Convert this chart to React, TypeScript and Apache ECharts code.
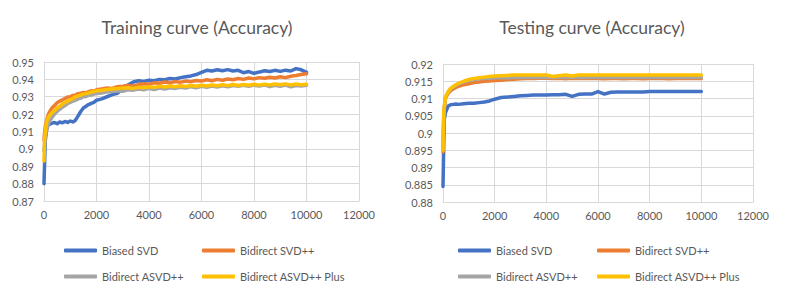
import React, { useEffect, useRef } from "react";
import * as echarts from "echarts";

const SERIES_NAMES = ["Biased SVD", "Bidirect SVD++", "Bidirect ASVD++", "Bidirect ASVD++ Plus"];
const COLORS = ["#4472C4", "#ED7D31", "#A5A5A5", "#FFC000"];

const TRAIN_TITLE = "Training curve (Accuracy)";
const TEST_TITLE = "Testing curve (Accuracy)";

// Training curve iterations
const TRAIN_X = [
  0, 25, 50, 100, 150, 200, 300, 400, 500, 600, 700, 800, 900, 1000, 1100, 1200, 1300, 1400, 1500, 1600,
  1700, 1800, 1900, 2000, 2200, 2400, 2600, 2800, 3000, 3200, 3400, 3600, 3800, 4000, 4200, 4400, 4600,
  4800, 5000, 5200, 5400, 5600, 5800, 6000, 6200, 6400, 6600, 6800, 7000, 7200, 7400, 7600, 7800, 8000,
  8200, 8400, 8600, 8800, 9000, 9200, 9400, 9600, 9800, 10000,
];

const TRAIN_BIASED_SVD = [
  0.88, 0.893, 0.905, 0.911, 0.9135, 0.914, 0.9148, 0.9152, 0.9145, 0.9155, 0.915, 0.9158, 0.9152, 0.916,
  0.9155, 0.9165, 0.919, 0.9215, 0.9235, 0.9245, 0.9255, 0.9262, 0.9268, 0.928, 0.9288, 0.93, 0.9312,
  0.932, 0.9345, 0.9368, 0.9385, 0.9392, 0.9388, 0.9395, 0.9392, 0.94, 0.9398, 0.9405, 0.9402, 0.941,
  0.9415, 0.942, 0.9428, 0.944, 0.9452, 0.9448, 0.9455, 0.945, 0.9456, 0.9448, 0.9452, 0.9438, 0.9445,
  0.9435, 0.9442, 0.945, 0.9445, 0.9452, 0.9446, 0.9453, 0.9448, 0.9462, 0.9455, 0.944,
];

const TRAIN_BIDIRECT_SVDPP = [
  0.905, 0.91, 0.913, 0.9165, 0.919, 0.921, 0.9235, 0.925, 0.9265, 0.9275, 0.9282, 0.929, 0.9298, 0.93,
  0.9308, 0.931, 0.9318, 0.932, 0.9325, 0.9322, 0.933, 0.9335, 0.9332, 0.934, 0.9345, 0.935, 0.9348,
  0.9358, 0.936, 0.9365, 0.9362, 0.937, 0.9375, 0.9372, 0.938, 0.9378, 0.9385, 0.938, 0.9388, 0.9384,
  0.939, 0.9387, 0.9393, 0.939, 0.9398, 0.9392, 0.94, 0.9395, 0.9402, 0.9398, 0.9405, 0.94, 0.9408,
  0.9403, 0.941, 0.9406, 0.9412, 0.9408, 0.9415, 0.941, 0.9418, 0.9422, 0.9428, 0.9432,
];

const TRAIN_BIDIRECT_ASVDPP = [
  0.899, 0.904, 0.907, 0.911, 0.9135, 0.9155, 0.918, 0.92, 0.9215, 0.9228, 0.924, 0.925, 0.926, 0.9268,
  0.9275, 0.928, 0.9288, 0.9292, 0.93, 0.9302, 0.9308, 0.931, 0.9315, 0.9318, 0.9322, 0.9328, 0.933,
  0.9335, 0.9332, 0.934, 0.9338, 0.9345, 0.934, 0.9348, 0.9342, 0.935, 0.9345, 0.9352, 0.9348, 0.9355,
  0.935, 0.9358, 0.9352, 0.936, 0.9355, 0.9362, 0.9356, 0.9363, 0.9358, 0.9365, 0.936, 0.9366, 0.936,
  0.9367, 0.9362, 0.9368, 0.9358, 0.9366, 0.936, 0.9367, 0.9357, 0.9365, 0.9362, 0.9366,
];

const TRAIN_BIDIRECT_ASVDPP_PLUS = [
  0.893, 0.906, 0.91, 0.9155, 0.9175, 0.919, 0.9208, 0.922, 0.9235, 0.9245, 0.9258, 0.9268, 0.9275,
  0.9283, 0.929, 0.93, 0.9305, 0.931, 0.9315, 0.9318, 0.9322, 0.9328, 0.933, 0.9335, 0.9338, 0.9342,
  0.9345, 0.9348, 0.935, 0.9352, 0.9348, 0.9355, 0.9352, 0.9358, 0.9354, 0.936, 0.9356, 0.9362, 0.9358,
  0.9363, 0.9359, 0.9365, 0.936, 0.9366, 0.9362, 0.9368, 0.9363, 0.9369, 0.9364, 0.937, 0.9365, 0.9371,
  0.9366, 0.9372, 0.9367, 0.9372, 0.9368, 0.9373, 0.9369, 0.9374, 0.9368, 0.9373, 0.9369, 0.9372,
];

// Testing curve iterations
const TEST_X = [
  0, 25, 50, 100, 200, 300, 400, 500, 600, 800, 1000, 1200, 1400, 1600, 1800, 2000, 2250, 2500, 2750,
  3000, 3250, 3500, 3750, 4000, 4250, 4500, 4750, 5000, 5250, 5500, 5750, 6000, 6250, 6500, 6750, 7000,
  7250, 7500, 7750, 8000, 8250, 8500, 8750, 9000, 9250, 9500, 9750, 10000,
];

const TEST_BIASED_SVD = [
  0.8845, 0.895, 0.904, 0.906, 0.9078, 0.9082, 0.9083, 0.9084, 0.9083, 0.9085, 0.9086, 0.9086, 0.9088,
  0.909, 0.9093, 0.9098, 0.9103, 0.9104, 0.9106, 0.9108, 0.9109, 0.911, 0.911, 0.911, 0.9111, 0.9111,
  0.9112, 0.9106, 0.9112, 0.9113, 0.9113, 0.912, 0.9113, 0.9118, 0.9119, 0.9119, 0.9119, 0.9119, 0.9119,
  0.912, 0.912, 0.912, 0.912, 0.912, 0.912, 0.912, 0.912, 0.912,
];

const TEST_BIDIRECT_SVDPP = [
  0.8945, 0.903, 0.907, 0.9102, 0.9115, 0.9123, 0.9128, 0.9132, 0.9135, 0.914, 0.9143, 0.9146, 0.9148,
  0.915, 0.9151, 0.9152, 0.9153, 0.9155, 0.9156, 0.9157, 0.9158, 0.9158, 0.9159, 0.9159, 0.9158, 0.9159,
  0.9157, 0.9159, 0.9158, 0.9159, 0.9158, 0.9158, 0.9157, 0.9158, 0.9158, 0.9157, 0.9158, 0.9158,
  0.9157, 0.9158, 0.9158, 0.9158, 0.9157, 0.9158, 0.9158, 0.9158, 0.9158, 0.9158,
];

const TEST_BIDIRECT_ASVDPP = [
  0.895, 0.904, 0.9075, 0.9105, 0.9118, 0.9127, 0.9133, 0.9138, 0.9142, 0.9148, 0.9152, 0.9155, 0.9157,
  0.9158, 0.9159, 0.916, 0.916, 0.916, 0.9161, 0.9161, 0.9161, 0.9161, 0.9161, 0.9161, 0.9161, 0.9161,
  0.9161, 0.9161, 0.9161, 0.9161, 0.9161, 0.9161, 0.9161, 0.9161, 0.9161, 0.9161, 0.9161, 0.9161,
  0.9161, 0.9161, 0.9161, 0.9161, 0.9161, 0.9161, 0.9161, 0.9161, 0.9161, 0.9161,
];

const TEST_BIDIRECT_ASVDPP_PLUS = [
  0.895, 0.9055, 0.908, 0.9105, 0.912, 0.913, 0.9135, 0.914, 0.9144, 0.915, 0.9155, 0.9158, 0.916,
  0.9162, 0.9164, 0.9165, 0.9166, 0.9167, 0.9168, 0.9168, 0.9168, 0.9168, 0.9168, 0.9168, 0.9164,
  0.9166, 0.9168, 0.9165, 0.9168, 0.9168, 0.9168, 0.9168, 0.9168, 0.9168, 0.9168, 0.9168, 0.9168,
  0.9168, 0.9168, 0.9168, 0.9168, 0.9168, 0.9168, 0.9168, 0.9168, 0.9168, 0.9168, 0.9168,
];

const X_MIN = 0;
const X_MAX = 12000;
const X_STEP = 2000;
const TRAIN_Y = { min: 0.87, max: 0.95, step: 0.01 };
const TEST_Y = { min: 0.88, max: 0.92, step: 0.005 };

const FONT = "Lato, 'Open Sans', sans-serif";
const TEXT_COLOR = "#595959";
const GRID_COLOR = "#d9d9d9";

function pairs(xs: number[], ys: number[]) {
  return xs.map((x, i) => [x, ys[i]]);
}

export default function App() {
  const ref = useRef<HTMLDivElement>(null);

  useEffect(() => {
    if (!ref.current) return;
    const chart = echarts.init(ref.current, undefined, { renderer: "svg" });

    const axisLabel = { color: TEXT_COLOR, fontSize: 11, fontFamily: FONT };
    const xAxisBase = {
      type: "value" as const,
      min: X_MIN,
      max: X_MAX,
      interval: X_STEP,
      axisLine: { show: true, lineStyle: { color: GRID_COLOR, width: 1 } },
      axisTick: { show: false },
      splitLine: { show: true, lineStyle: { color: GRID_COLOR, width: 1 } },
      axisLabel: { ...axisLabel, margin: 8, formatter: (v: number) => String(v) },
    };
    const yAxisBase = {
      type: "value" as const,
      axisLine: { show: true, lineStyle: { color: GRID_COLOR, width: 1 } },
      axisTick: { show: false },
      splitLine: { show: true, lineStyle: { color: GRID_COLOR, width: 1 } },
      axisLabel: { ...axisLabel, margin: 10 },
    };

    const trainData = [TRAIN_BIASED_SVD, TRAIN_BIDIRECT_SVDPP, TRAIN_BIDIRECT_ASVDPP, TRAIN_BIDIRECT_ASVDPP_PLUS];
    const testData = [TEST_BIASED_SVD, TEST_BIDIRECT_SVDPP, TEST_BIDIRECT_ASVDPP, TEST_BIDIRECT_ASVDPP_PLUS];

    const mkSeries = (data: number[][], xs: number[], idx: number) =>
      data.map((ys, i) => ({
        name: SERIES_NAMES[i],
        type: "line" as const,
        xAxisIndex: idx,
        yAxisIndex: idx,
        data: pairs(xs, ys),
        showSymbol: false,
        symbol: "none",
        color: COLORS[i],
        lineStyle: { width: 3.5, color: COLORS[i], join: "round", cap: "round" },
        emphasis: { disabled: true },
        z: 2 + i,
      }));

    const legendText = { color: TEXT_COLOR, fontSize: 11, fontFamily: FONT };
    const mkLegend = (left: number, names: string[]) => ({
      left,
      top: 245,
      padding: 0,
      orient: "vertical" as const,
      data: names,
      itemGap: 15,
      itemWidth: 33,
      itemHeight: 4,
      icon: "roundRect",
      textStyle: legendText,
      selectedMode: false,
    });

    const titleStyle = { color: TEXT_COLOR, fontSize: 17.5, fontWeight: "normal" as const, fontFamily: FONT };

    chart.setOption({
      animation: false,
      backgroundColor: "#ffffff",
      title: [
        { text: TRAIN_TITLE, left: 197, top: 18, padding: 0, textAlign: "center", textStyle: titleStyle },
        { text: TEST_TITLE, left: 592, top: 18, padding: 0, textAlign: "center", textStyle: titleStyle },
      ],
      grid: [
        { left: 44, top: 62, width: 315, height: 139 },
        { left: 443, top: 64, width: 310, height: 138 },
      ],
      xAxis: [
        { ...xAxisBase, gridIndex: 0 },
        { ...xAxisBase, gridIndex: 1 },
      ],
      yAxis: [
        { ...yAxisBase, gridIndex: 0, min: TRAIN_Y.min, max: TRAIN_Y.max, interval: TRAIN_Y.step },
        { ...yAxisBase, gridIndex: 1, min: TEST_Y.min, max: TEST_Y.max, interval: TEST_Y.step },
      ],
      legend: [
        mkLegend(64, [SERIES_NAMES[0], SERIES_NAMES[2]]),
        mkLegend(202, [SERIES_NAMES[1], SERIES_NAMES[3]]),
        mkLegend(458, [SERIES_NAMES[0], SERIES_NAMES[2]]),
        mkLegend(597, [SERIES_NAMES[1], SERIES_NAMES[3]]),
      ],
      series: [...mkSeries(trainData, TRAIN_X, 0), ...mkSeries(testData, TEST_X, 1)],
    });

    return () => chart.dispose();
  }, []);

  return (
    <div
      ref={ref}
      style={{ position: "absolute", left: 0, top: 0, width: 789, height: 300, background: "#fff" }}
    />
  );
}
